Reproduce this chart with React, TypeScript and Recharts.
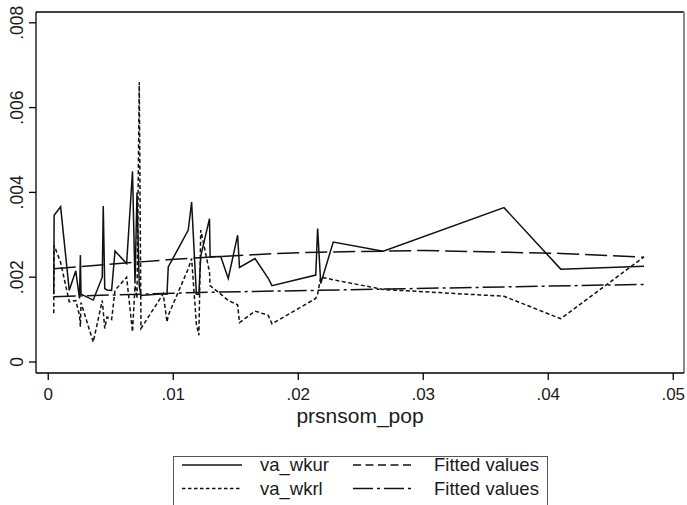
import { LineChart, Line, XAxis, YAxis, ReferenceLine } from 'recharts';

// prsnsom_pop (shared x for both raw series)
const prsnsomPop = [
  0.00044, 0.00047, 0.00099, 0.00168, 0.0022, 0.0025, 0.00257, 0.00262, 0.0036, 0.00432,
  0.0044, 0.00452, 0.0047, 0.00507, 0.00534, 0.00627, 0.00674, 0.00694, 0.0071, 0.00728,
  0.00742, 0.0092, 0.0095, 0.0096, 0.0112, 0.01147, 0.01185, 0.01205, 0.0122, 0.0129,
  0.01295, 0.0138, 0.0144, 0.01515, 0.0153, 0.01654, 0.0176, 0.0179, 0.0214, 0.02155,
  0.0218, 0.0228, 0.0268, 0.03646, 0.041, 0.04766,
];

const vaWkur = [
  0.0016, 0.00346, 0.00366, 0.00169, 0.00215, 0.0015, 0.00252, 0.0016, 0.00146, 0.002,
  0.00368, 0.00173, 0.0017, 0.00169, 0.00262, 0.00232, 0.0045, 0.00185, 0.004, 0.0018,
  0.00157, 0.00161, 0.0016, 0.00224, 0.00311, 0.00377, 0.0016, 0.0016, 0.0025, 0.00338,
  0.00248, 0.00249, 0.00197, 0.00299, 0.00223, 0.00244, 0.00197, 0.0018, 0.00205, 0.00315,
  0.00185, 0.00283, 0.00261, 0.00364, 0.00219, 0.00226,
];

const vaWkrl = [
  0.00115, 0.00275, 0.00235, 0.00142, 0.00145, 0.0011, 0.00083, 0.0014, 0.00047, 0.00145,
  0.0012, 0.00079, 0.00106, 0.001, 0.00169, 0.002, 0.00071, 0.0018, 0.0015, 0.0066,
  0.00079, 0.00161, 0.00094, 0.0011, 0.0022, 0.00244, 0.0009, 0.00063, 0.00311, 0.00212,
  0.0018, 0.0016, 0.00145, 0.00135, 0.00093, 0.0012, 0.0011, 0.0009, 0.0015, 0.0016,
  0.002, 0.00194, 0.00171, 0.00155, 0.00102, 0.00248,
];

// fitted values
const fitUrX = [0.00044, 0.0095, 0.0121, 0.0183, 0.0217, 0.03, 0.041, 0.04766];
const fitUrY = [0.0022, 0.00241, 0.00246, 0.00256, 0.00259, 0.00263, 0.00256, 0.00247];
const fitRlX = [0.00044, 0.0121, 0.04766];
const fitRlY = [0.00154, 0.00164, 0.00183];

const xTicks = [0, 0.01, 0.02, 0.03, 0.04, 0.05];
const yTicks = [0, 0.002, 0.004, 0.006, 0.008];

const legendNames = ['va_wkur', 'Fitted values', 'va_wkrl', 'Fitted values'];

const X_DOMAIN: [number, number] = [-0.00098, 0.05086];
const Y_DOMAIN: [number, number] = [-0.00026, 0.008255];

const toPoints = (xs: number[], ys: number[]) => xs.map((x, i) => ({ x, y: ys[i] }));

const urData = toPoints(prsnsomPop, vaWkur);
const rlData = toPoints(prsnsomPop, vaWkrl);
const urFit = toPoints(fitUrX, fitUrY);
const rlFit = toPoints(fitRlX, fitRlY);

const fmt = (v: number) => (v === 0 ? '0' : String(v).replace(/^0/, ''));

const INK = '#111';
const FONT = '"Liberation Sans", Arial, sans-serif';

const styles = [
  { data: urData, dash: undefined, key: undefined },
  { data: urFit, dash: '22 6', key: '8 4.5' },
  { data: rlData, dash: '4 2.5', key: '3.5 2.5' },
  { data: rlFit, dash: '22 4 3 4', key: '20 4 3 4' },
];

function YTick({ y, payload }: any) {
  return (
    <text
      x={23}
      y={y}
      transform={`rotate(-90 23 ${y})`}
      textAnchor="middle"
      fontSize={17.5}
      fill="#1a1a1a"
    >
      {fmt(payload.value)}
    </text>
  );
}

function LegendBox() {
  const rows = [465, 488.5];
  const cols = [
    { x1: 182, x2: 242, tx: 260 },
    { x1: 353, x2: 415, tx: 434 },
  ];
  return (
    <svg
      width={687}
      height={505}
      style={{ position: 'absolute', left: 0, top: 0, pointerEvents: 'none' }}
    >
      <rect x={173.5} y={456.5} width={374} height={60} fill="#fff" stroke="#555" strokeWidth={1} />
      {legendNames.map((name, i) => {
        const r = rows[Math.floor(i / 2)];
        const c = cols[i % 2];
        return (
          <g key={i}>
            <line
              x1={c.x1}
              x2={c.x2}
              y1={r}
              y2={r}
              stroke={INK}
              strokeWidth={1.5}
              strokeDasharray={styles[i].key}
            />
            <text x={c.tx} y={r + 6} fontSize={18.5} fill="#1a1a1a" fontFamily={FONT}>
              {name}
            </text>
          </g>
        );
      })}
    </svg>
  );
}

export default function App() {
  return (
    <div style={{ position: 'absolute', left: 0, top: 0, width: 687, height: 505, fontFamily: FONT, background: '#fff' }}>
      <LineChart width={687} height={505} margin={{ top: 12, right: 3, bottom: 72, left: 0 }}>
        <XAxis
          dataKey="x"
          type="number"
          domain={X_DOMAIN}
          allowDataOverflow
          ticks={xTicks}
          interval={0}
          tickFormatter={fmt}
          tickSize={7}
          tickMargin={8}
          stroke="#000"
          strokeWidth={1.3}
          tick={{ fill: '#1a1a1a', fontSize: 17 }}
          height={60}
          label={{ value: 'prsnsom_pop', position: 'insideBottom', offset: 10, fontSize: 21, fill: '#1a1a1a' }}
        />
        <YAxis
          type="number"
          domain={Y_DOMAIN}
          allowDataOverflow
          ticks={yTicks}
          interval={0}
          tickSize={7}
          stroke="#000"
          strokeWidth={1.3}
          width={36}
          tick={<YTick />}
        />
        {/* plot region outline: dark top edge, grey right edge */}
        <ReferenceLine y={Y_DOMAIN[1]} stroke="#000" strokeWidth={1.3} />
        <ReferenceLine x={X_DOMAIN[1]} stroke="#8a8a8a" strokeWidth={2} />
        {styles.map((s, i) => (
          <Line
            key={i}
            data={s.data}
            dataKey="y"
            type="linear"
            dot={false}
            activeDot={false}
            stroke={INK}
            strokeWidth={1.5}
            strokeDasharray={s.dash}
            isAnimationActive={false}
          />
        ))}
      </LineChart>
      <LegendBox />
    </div>
  );
}
